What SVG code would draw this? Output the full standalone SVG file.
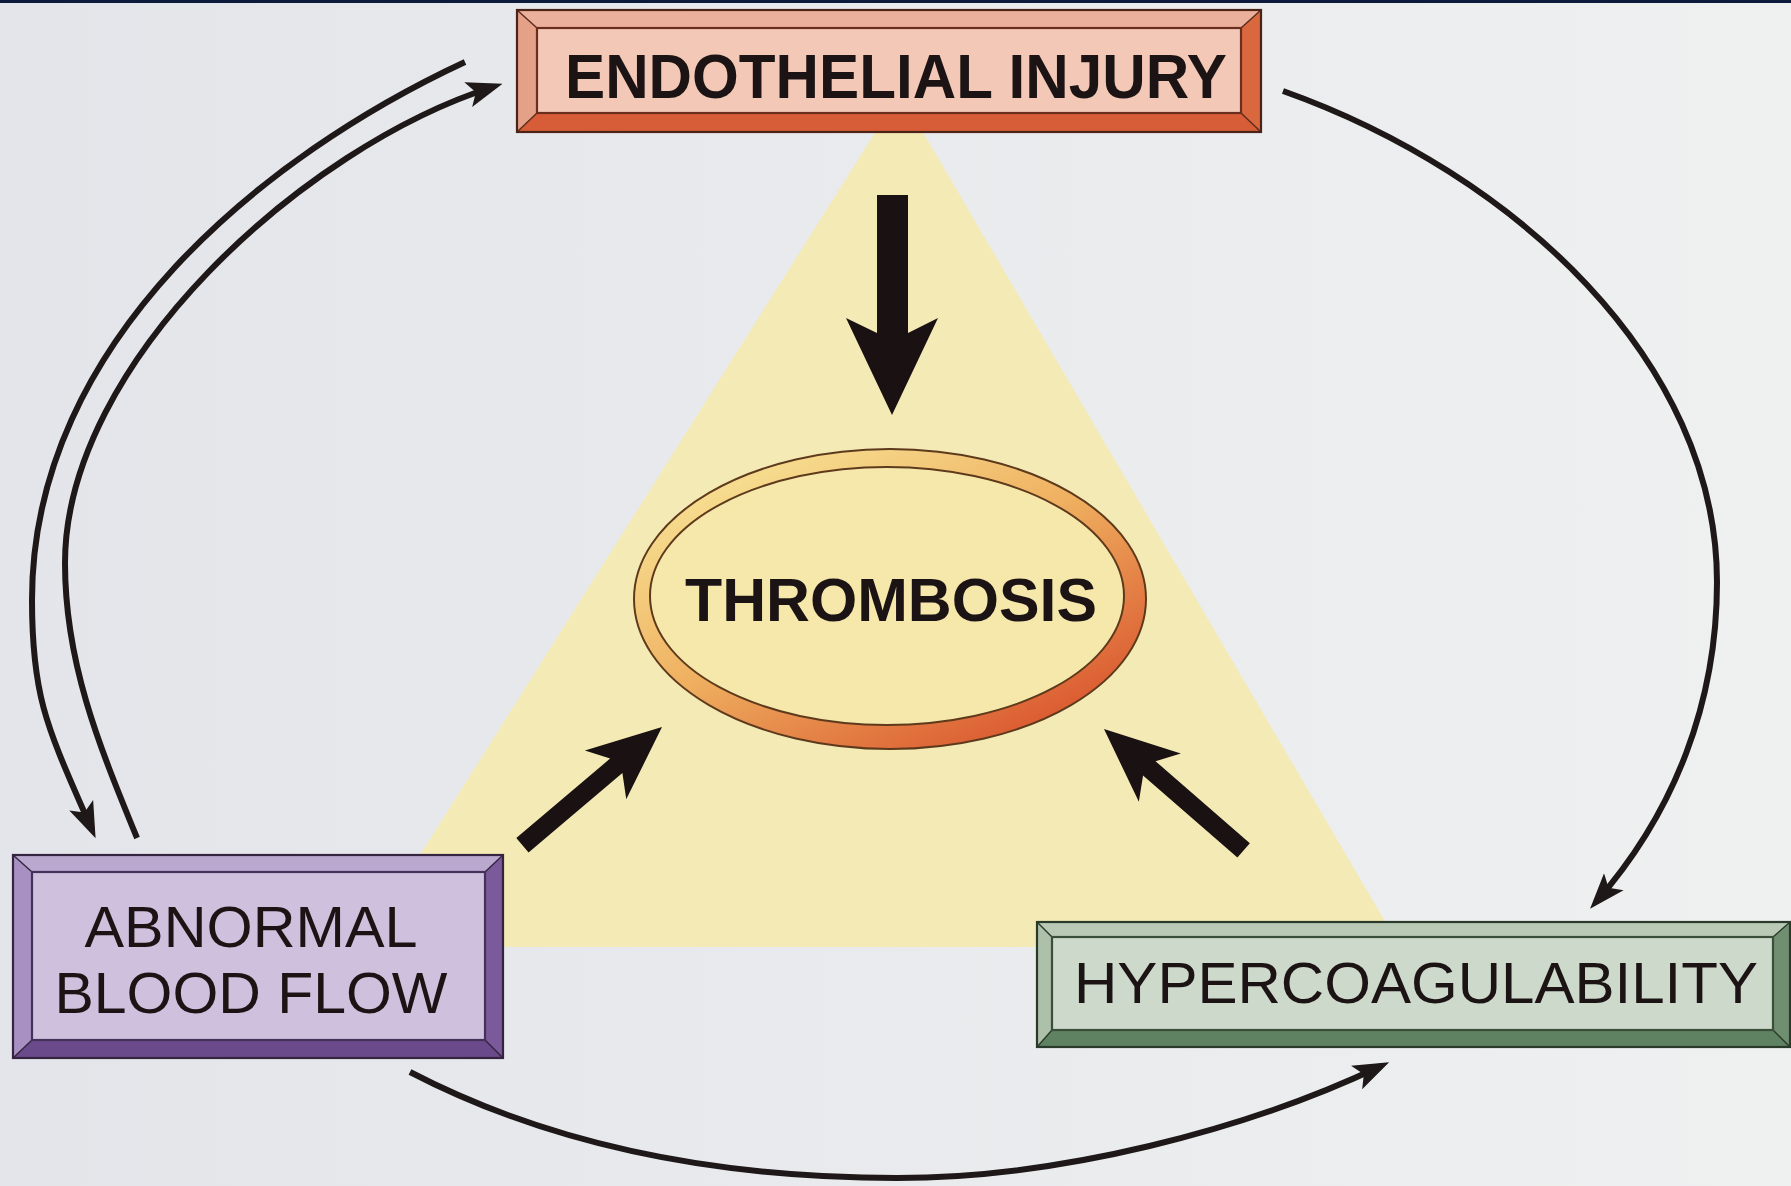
<svg xmlns="http://www.w3.org/2000/svg" width="1791" height="1186" viewBox="0 0 1791 1186">
<style>
.lbl{font-family:"Liberation Sans",Arial,Helvetica,sans-serif;fill:#1c1414;text-anchor:middle}
.b{font-weight:bold}
.conn{fill:none;stroke:#1e1818;stroke-width:6;stroke-linecap:butt}
.frame{fill:none;stroke-width:2.2}
.diag{stroke-width:1.4}
.fat{fill:#1a1212}
</style>
<defs>
<linearGradient id="bg" x1="0" y1="0" x2="1" y2="0">
<stop offset="0" stop-color="#e3e5ea"/>
<stop offset="1" stop-color="#eff0f0"/>
</linearGradient>
<linearGradient id="ring" x1="0.15" y1="0.1" x2="0.85" y2="0.95">
<stop offset="0" stop-color="#f7df92"/>
<stop offset="0.45" stop-color="#efb060"/>
<stop offset="1" stop-color="#d9522c"/>
</linearGradient>
<marker id="ah" markerUnits="userSpaceOnUse" markerWidth="36" markerHeight="30" viewBox="0 0 36 30" refX="27" refY="15" orient="auto">
<path d="M0,2 L36,15 L0,28 L8,15 z" fill="#1e1818"/>
</marker>
</defs>

<rect x="0" y="0" width="1791" height="1186" fill="url(#bg)"/>
<rect x="0" y="0" width="1791" height="3" fill="#0c1a3c"/>

<polygon id="triangle" points="900,93 1400,947 362,947" fill="#f4eab6"/>

<g id="connectors">
<path class="conn" d="M465,62 C267,154 32,340 32,600 C32,700 48,729 92,830" marker-end="url(#ah)"/>
<path class="conn" d="M137,838 C99,745 65,663 65,563 C65,363 304,146.5 494,86.5" marker-end="url(#ah)"/>
<path class="conn" d="M1283,91 C1515.5,173.5 1717,362 1717,582 C1717,702 1675,812 1596,902" marker-end="url(#ah)"/>
<path class="conn" d="M410,1072 C560,1150 730,1178 897,1178 C1060,1178 1246,1130 1381,1066" marker-end="url(#ah)"/>
<polygon class="fat" points="877,195 908,195 908,333 938,318 892,415 846,318 877,333"/>
<polygon class="fat" transform="translate(662,727) rotate(-40.3)" points="-183,-9.5 -60,-9.5 -74,-32 0,0 -74,32 -60,9.5 -183,9.5"/>
<polygon class="fat" transform="translate(1104,729) rotate(-139)" points="-185,-9.5 -60,-9.5 -74,-32 0,0 -74,32 -60,9.5 -185,9.5"/>
</g>

<g id="thrombosis">
<ellipse cx="890" cy="599" rx="256" ry="150" fill="url(#ring)" stroke="#5e3a1c" stroke-width="2"/>
<ellipse cx="887" cy="596" rx="237" ry="129" fill="#f6e8ab" stroke="#5e3a1c" stroke-width="2"/>
<text class="lbl b" x="891" y="621" font-size="62" textLength="412" lengthAdjust="spacingAndGlyphs">THROMBOSIS</text>
</g>

<g id="endothelial-injury">
<polygon points="517,10 1261,10 1241,28 537,28" fill="#ebb09b"/>
<polygon points="517,10 537,28 537,113 517,132" fill="#e5a088"/>
<polygon points="1261,10 1261,132 1241,113 1241,28" fill="#d9683f"/>
<polygon points="517,132 537,113 1241,113 1261,132" fill="#d65d37"/>
<rect x="537" y="28" width="704" height="85" fill="#f4c8b7"/>
<g stroke="#5a2a1c" class="diag">
<line x1="517" y1="10" x2="537" y2="28"/><line x1="1261" y1="10" x2="1241" y2="28"/>
<line x1="517" y1="132" x2="537" y2="113"/><line x1="1261" y1="132" x2="1241" y2="113"/>
</g>
<rect class="frame" x="517" y="10" width="744" height="122" stroke="#4a2418"/>
<rect class="frame" x="537" y="28" width="704" height="85" stroke="#6a2e1e"/>
<text class="lbl b" x="896" y="98" font-size="63" textLength="662" lengthAdjust="spacingAndGlyphs">ENDOTHELIAL INJURY</text>
</g>

<g id="abnormal-blood-flow">
<polygon points="13,855 503,855 485,872 32,872" fill="#bba8cf"/>
<polygon points="13,855 32,872 32,1040 13,1058" fill="#a891c2"/>
<polygon points="503,855 503,1058 485,1040 485,872" fill="#7a5a9a"/>
<polygon points="13,1058 32,1040 485,1040 503,1058" fill="#6a4a8a"/>
<rect x="32" y="872" width="453" height="168" fill="#cfc1de"/>
<g stroke="#35243f" class="diag">
<line x1="13" y1="855" x2="32" y2="872"/><line x1="503" y1="855" x2="485" y2="872"/>
<line x1="13" y1="1058" x2="32" y2="1040"/><line x1="503" y1="1058" x2="485" y2="1040"/>
</g>
<rect class="frame" x="13" y="855" width="490" height="203" stroke="#35243f"/>
<rect class="frame" x="32" y="872" width="453" height="168" stroke="#45305a"/>
<text class="lbl" x="251" y="947" font-size="57" textLength="333" lengthAdjust="spacingAndGlyphs">ABNORMAL</text>
<text class="lbl" x="251" y="1013" font-size="57" textLength="393" lengthAdjust="spacingAndGlyphs">BLOOD FLOW</text>
</g>

<g id="hypercoagulability">
<polygon points="1037,922 1790,922 1773,937 1052,937" fill="#b9c9b5"/>
<polygon points="1037,922 1052,937 1052,1030 1037,1047" fill="#adc0aa"/>
<polygon points="1790,922 1790,1047 1773,1030 1773,937" fill="#6f8f70"/>
<polygon points="1037,1047 1052,1030 1773,1030 1790,1047" fill="#5f8262"/>
<rect x="1052" y="937" width="721" height="93" fill="#cdd9cb"/>
<g stroke="#2a3a2a" class="diag">
<line x1="1037" y1="922" x2="1052" y2="937"/><line x1="1790" y1="922" x2="1773" y2="937"/>
<line x1="1037" y1="1047" x2="1052" y2="1030"/><line x1="1790" y1="1047" x2="1773" y2="1030"/>
</g>
<rect class="frame" x="1037" y="922" width="753" height="125" stroke="#2a3a2a"/>
<rect class="frame" x="1052" y="937" width="721" height="93" stroke="#3a4e3a"/>
<text class="lbl" x="1416" y="1003" font-size="57" textLength="684" lengthAdjust="spacingAndGlyphs">HYPERCOAGULABILITY</text>
</g>
</svg>
